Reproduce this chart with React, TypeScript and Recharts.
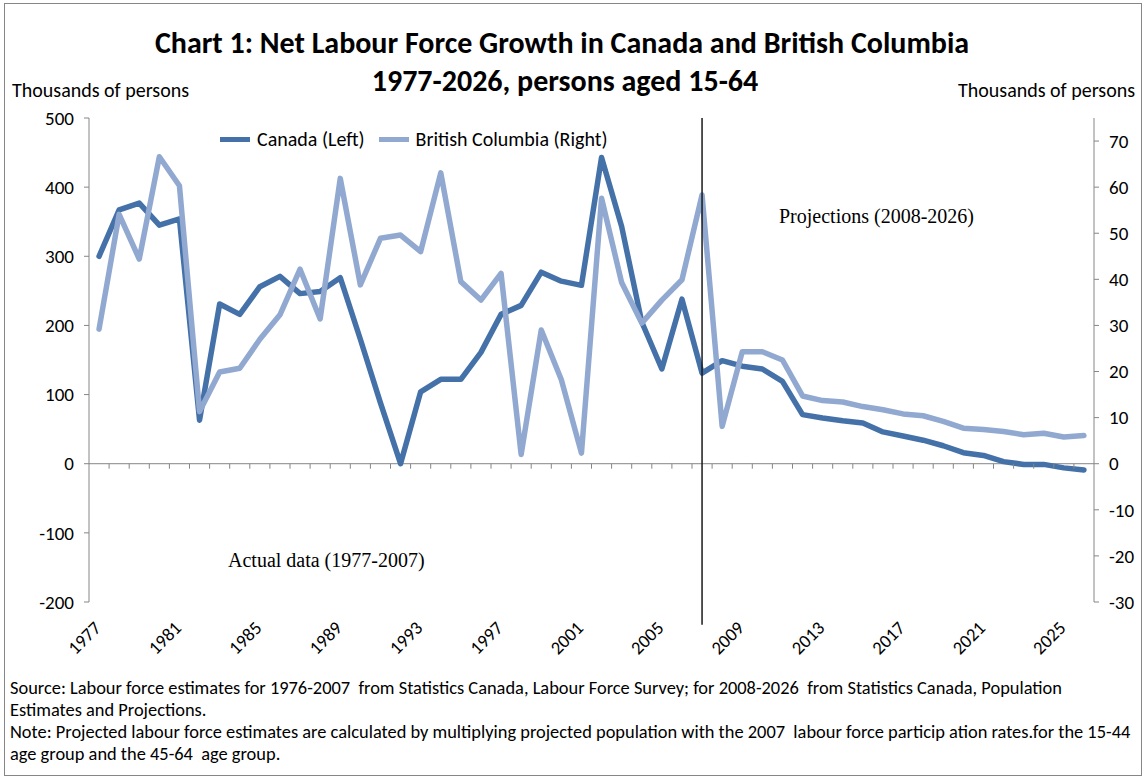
import { LineChart, Line, XAxis, YAxis, ReferenceLine, Legend } from 'recharts';

// Net labour force growth, thousands of persons aged 15-64
const years = [
  1977, 1978, 1979, 1980, 1981, 1982, 1983, 1984, 1985, 1986,
  1987, 1988, 1989, 1990, 1991, 1992, 1993, 1994, 1995, 1996,
  1997, 1998, 1999, 2000, 2001, 2002, 2003, 2004, 2005, 2006,
  2007, 2008, 2009, 2010, 2011, 2012, 2013, 2014, 2015, 2016,
  2017, 2018, 2019, 2020, 2021, 2022, 2023, 2024, 2025, 2026,
];
const canada = [
  300, 367, 377, 345, 354, 63, 231, 216, 256, 271,
  246, 249, 269, 180, 88, 0, 104, 122, 122, 161,
  216, 229, 277, 264, 258, 443, 343, 205, 137, 238,
  131, 149, 141, 137, 119, 71, 66, 62, 59, 46,
  40, 34, 26, 16, 12, 3, -1, -1, -6, -9,
];
const bc = [
  29.2, 54.1, 44.4, 66.6, 60.3, 11.3, 19.9, 20.7, 27, 32.3,
  42.2, 31.4, 61.9, 38.8, 48.9, 49.6, 46, 63.1, 39.5, 35.5,
  41.3, 2, 29, 18.2, 2.3, 57.6, 39.3, 30.5, 35.5, 39.9,
  58.3, 8.1, 24.3, 24.3, 22.5, 14.7, 13.7, 13.4, 12.4, 11.7,
  10.8, 10.4, 9.2, 7.7, 7.4, 7, 6.3, 6.6, 5.8, 6.1,
];
const labelYears = [1977, 1981, 1985, 1989, 1993, 1997, 2001, 2005, 2009, 2013, 2017, 2021, 2025];
const leftTicks = [-200, -100, 0, 100, 200, 300, 400, 500];
const rightTicks = [-30, -20, -10, 0, 10, 20, 30, 40, 50, 60, 70];
const notes = [
  'Source: Labour force estimates for 1976-2007  from Statistics Canada, Labour Force Survey; for 2008-2026  from Statistics Canada, Population',
  'Estimates and Projections.',
  'Note: Projected labour force estimates are calculated by multiplying projected population with the 2007  labour force particip ation rates.for the 15-44',
  'age group and the 45-64  age group.',
];

const data = years.map((y, i) => ({ year: y, canada: canada[i], bc: bc[i] }));

const W = 1145;
const H = 778;
const PLOT_LEFT = 89;
const PLOT_RIGHT = 1094;
const PLOT_TOP = 118;
const PLOT_BOTTOM = 602;
const LEFT_MIN = -200;
const LEFT_MAX = 500;
const SANS = "Carlito, Calibri, 'Liberation Sans', sans-serif";
const SERIF = "'Liberation Serif', 'DejaVu Serif', serif";
const AXIS_GREY = '#868686';
const CANADA = '#4571A9';
const BC = '#91A9D0';

function YearTick(props: any) {
  const { x, y, payload, index } = props;
  const band = (PLOT_RIGHT - PLOT_LEFT) / years.length;
  const zeroY = y - ((0 - LEFT_MIN) / (LEFT_MAX - LEFT_MIN)) * (PLOT_BOTTOM - PLOT_TOP);
  const bx = x - band / 2;
  const show = labelYears.includes(Number(payload.value));
  const ly = y + 27;
  return (
    <g>
      {index > 0 && <line x1={bx} y1={zeroY} x2={bx} y2={zeroY + 5} stroke={AXIS_GREY} />}
      {show && (
        <text x={x + 3} y={ly} transform={`rotate(-45, ${x + 3}, ${ly})`} textAnchor="end"
          fontSize={18.5} fontFamily={SANS} fill="#000">
          {payload.value}
        </text>
      )}
    </g>
  );
}

function LegendContent() {
  const items = [
    { label: 'Canada (Left)', color: CANADA },
    { label: 'British Columbia (Right)', color: BC },
  ];
  return (
    <div style={{ display: 'flex', alignItems: 'center', fontFamily: SANS, fontSize: 20, whiteSpace: 'nowrap' }}>
      {items.map(it => (
        <div key={it.label} style={{ display: 'flex', alignItems: 'center', marginRight: 14 }}>
          <div style={{ width: 30, height: 5, background: it.color, marginRight: 7 }} />
          <span>{it.label}</span>
        </div>
      ))}
    </div>
  );
}

export default function App() {
  return (
    <div style={{ position: 'absolute', left: 0, top: 0, width: W, height: H, background: '#fff' }}>
      <div style={{ position: 'absolute', left: 4, top: 3, width: 1136, height: 771, border: `1px solid ${AXIS_GREY}` }} />
      <LineChart width={W} height={H} data={data} margin={{ top: PLOT_TOP, right: 0, bottom: 0, left: 0 }}>
        <XAxis dataKey="year" scale="band" interval={0} tick={<YearTick />} tickLine={false} axisLine={false}
          tickSize={0} tickMargin={0} height={H - PLOT_BOTTOM} />
        <YAxis yAxisId="left" domain={[LEFT_MIN, LEFT_MAX]} ticks={leftTicks} interval={0} width={PLOT_LEFT}
          tickSize={5} tickMargin={10} axisLine={{ stroke: AXIS_GREY }} tickLine={{ stroke: AXIS_GREY }}
          tick={{ fill: '#000', fontSize: 19, fontFamily: SANS }} />
        <YAxis yAxisId="right" orientation="right" domain={[-30, 75]} ticks={rightTicks} interval={0}
          width={W - PLOT_RIGHT} tickSize={5} tickMargin={10} axisLine={{ stroke: AXIS_GREY }}
          tickLine={{ stroke: AXIS_GREY }} tick={{ fill: '#000', fontSize: 19, fontFamily: SANS }} />
        <ReferenceLine yAxisId="left" y={0} stroke={AXIS_GREY} />
        <Line yAxisId="left" dataKey="canada" name="Canada (Left)" stroke={CANADA} strokeWidth={5.5}
          dot={false} strokeLinejoin="round" strokeLinecap="round" isAnimationActive={false} />
        <Line yAxisId="right" dataKey="bc" name="British Columbia (Right)" stroke={BC} strokeWidth={5.5}
          dot={false} strokeLinejoin="round" strokeLinecap="round" isAnimationActive={false} />
        <ReferenceLine yAxisId="left" ifOverflow="visible" stroke="#1a1a1a" strokeWidth={1.5}
          segment={[{ x: 2007, y: LEFT_MAX }, { x: 2007, y: -233 }]} />
        <Legend verticalAlign="middle" layout="horizontal" content={<LegendContent />}
          wrapperStyle={{ position: 'absolute', top: 127, left: 220, width: 'auto' }} />
      </LineChart>
      <svg width={W} height={H} style={{ position: 'absolute', left: 0, top: 0, pointerEvents: 'none' }}>
        <g fontFamily={SANS} fontWeight="bold" fontSize={30} textAnchor="middle">
          <text x={562} y={53}>Chart 1: Net Labour Force Growth in Canada and British Columbia</text>
          <text x={565} y={91}>1977-2026, persons aged 15-64</text>
        </g>
        <g fontFamily={SANS} fontSize={20}>
          <text x={12} y={97}>Thousands of persons</text>
          <text x={958} y={97}>Thousands of persons</text>
        </g>
        <g fontFamily={SERIF} fontSize={20}>
          <text x={779} y={223}>Projections (2008-2026)</text>
          <text x={228} y={567}>Actual data (1977-2007)</text>
        </g>
        <g fontFamily={SANS} fontSize={18.4}>
          {notes.map((n, i) => (
            <text key={i} x={10} y={694 + i * 22} style={{ whiteSpace: 'pre' }}>{n}</text>
          ))}
        </g>
      </svg>
    </div>
  );
}
